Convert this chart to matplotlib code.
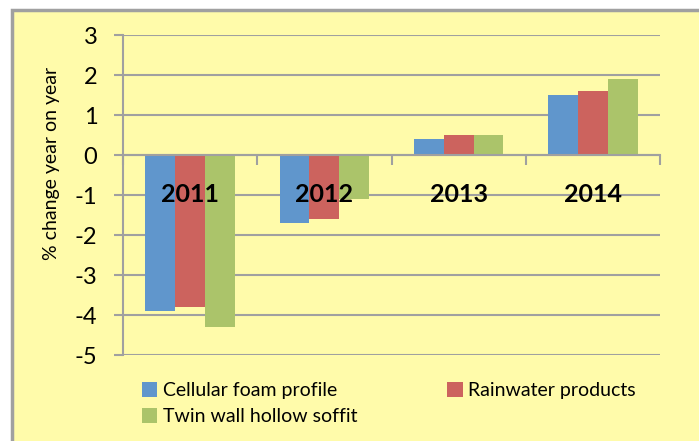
import numpy as np
import matplotlib
matplotlib.use("Agg")
import matplotlib.pyplot as plt
from matplotlib.patches import Rectangle

years = ["2011", "2012", "2013", "2014"]
series_names = ["Cellular foam profile", "Rainwater products", "Twin wall hollow soffit"]
cellular = [-3.9, -1.7, 0.4, 1.5]
rainwater = [-3.8, -1.6, 0.5, 1.6]
twin_wall = [-4.3, -1.1, 0.5, 1.9]
colors = ["#6096CC", "#CC635E", "#ABC46A"]

plt.rcParams["font.family"] = ["Lato", "DejaVu Sans"]
plt.rcParams["axes.unicode_minus"] = False
bg = "#FFFBAA"
grid_c = "#A0A0A0"

W, H = 699, 441
fig = plt.figure(figsize=(W / 100, H / 100), dpi=100)
fig.patch.set_facecolor("white")
fig.patches.append(Rectangle((12 / W, -0.1), 1.1, 1.1 - 10 / H, transform=fig.transFigure,
                             facecolor=bg, edgecolor=grid_c, linewidth=2.5, zorder=-1))

ax = fig.add_axes([123 / W, 1 - 355 / H, (660 - 123) / W, (355 - 35) / H])
ax.set_zorder(1)
ax.patch.set_alpha(0)

x = np.arange(len(years))
w = 0.222
bars = []
for i, (vals, name) in enumerate(zip([cellular, rainwater, twin_wall], series_names)):
    b = ax.bar(x + (i - 1) * w, vals, w, color=colors[i], label=name, zorder=2)
    bars.append(b)

ax.set_ylim(-5, 3)
ax.set_xlim(-0.5, 3.5)
ax.set_yticks(range(-5, 4))
ax.yaxis.grid(True, color=grid_c, linewidth=1.5, zorder=1)
ax.set_axisbelow(True)

for s in ["top", "right"]:
    ax.spines[s].set_visible(False)
ax.spines["left"].set_color(grid_c)
ax.spines["left"].set_linewidth(1.5)
ax.spines["bottom"].set_position(("data", 0))
ax.spines["bottom"].set_color(grid_c)
ax.spines["bottom"].set_linewidth(1.5)

ax.tick_params(axis="y", length=6.5, width=1.5, color=grid_c, labelsize=17, pad=12)
ax.set_xticks(x)
ax.set_xticklabels(years, fontsize=18, fontweight="bold")
ax.tick_params(axis="x", which="major", length=0, pad=20)
ax.set_xticks(np.arange(-0.5, 4.0, 1.0), minor=True)
ax.tick_params(axis="x", which="minor", length=7, width=1.5, color=grid_c, direction="out")
for lbl in ax.get_xticklabels():
    lbl.set_zorder(5)
ax.xaxis.set_zorder(4)

fig.text(52 / W, 1 - 163 / H, "% change year on year", rotation=90, fontsize=14,
         ha="center", va="center")

handles = [bars[0], bars[2], bars[1]]
labels = [series_names[0], series_names[2], series_names[1]]
fig.legend(handles, labels, loc="upper left", bbox_to_anchor=(132 / W, 1 - 372 / H),
           ncol=2, frameon=False, fontsize=14, handlelength=0.8, handleheight=0.8,
           handletextpad=0.3, columnspacing=4.6, labelspacing=0.45, borderpad=0)

fig.savefig("out.png", dpi=100, facecolor="white")
